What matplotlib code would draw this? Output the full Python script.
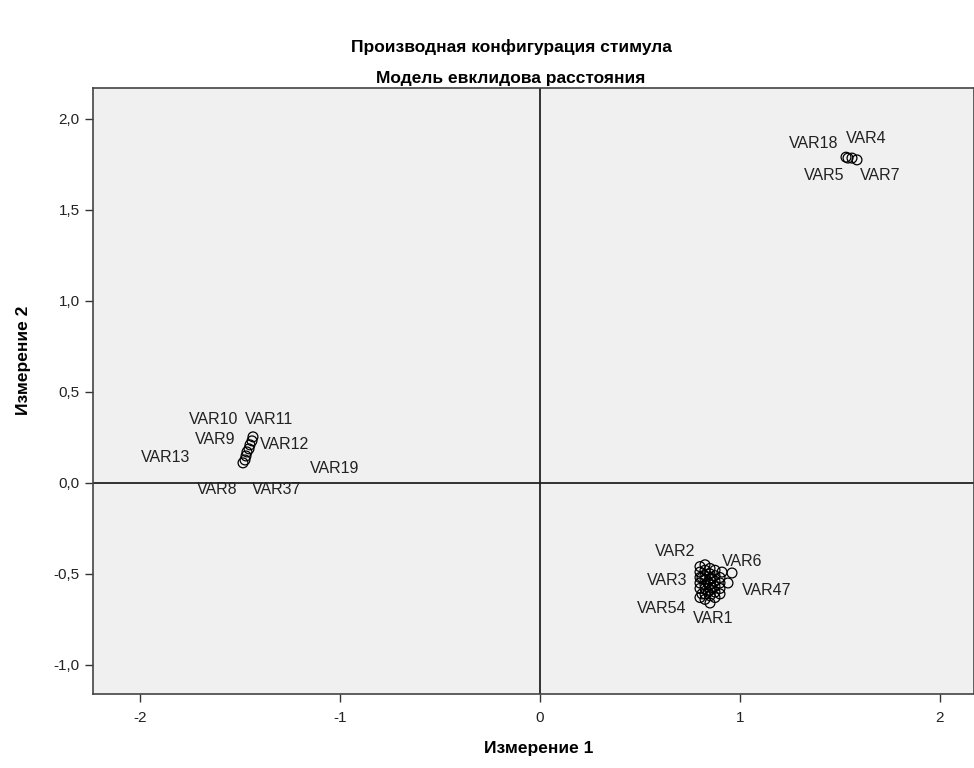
import matplotlib.pyplot as plt
from matplotlib.ticker import FuncFormatter

plt.rcParams['font.family'] = ['Liberation Sans', 'DejaVu Sans']

# stimulus coordinates (dimension 1, dimension 2)
dim1 = [
    # top right group
    1.53, 1.54, 1.56, 1.585,
    # left group
    -1.435, -1.44, -1.45, -1.455, -1.465, -1.47, -1.475, -1.485,
    # bottom right group
    0.825, 0.91, 0.80, 0.94, 0.80, 0.85,
    0.80, 0.80, 0.80, 0.80,
    0.825, 0.825, 0.825, 0.825, 0.825, 0.825, 0.825,
    0.85, 0.85, 0.85, 0.85, 0.85, 0.85,
    0.875, 0.875, 0.875, 0.875, 0.875, 0.875,
    0.90, 0.90, 0.90, 0.90, 0.96,
    0.81, 0.84, 0.86, 0.84, 0.81, 0.86,
]
dim2 = [
    1.79, 1.785, 1.785, 1.775,
    0.253, 0.231, 0.209, 0.187, 0.170, 0.148, 0.126, 0.110,
    -0.45, -0.49, -0.52, -0.55, -0.63, -0.66,
    -0.46, -0.49, -0.55, -0.58,
    -0.48, -0.51, -0.53, -0.56, -0.58, -0.61, -0.64,
    -0.47, -0.50, -0.53, -0.56, -0.59, -0.62,
    -0.48, -0.51, -0.54, -0.57, -0.60, -0.63,
    -0.52, -0.55, -0.58, -0.61, -0.495,
    -0.52, -0.545, -0.575, -0.60, -0.61, -0.525,
]
labels = [
    'VAR18', 'VAR5', 'VAR4', 'VAR7',
    'VAR10', 'VAR11', 'VAR9', 'VAR12', 'VAR13', 'VAR19', 'VAR8', 'VAR37',
    'VAR2', 'VAR6', 'VAR3', 'VAR47', 'VAR54', 'VAR1',
]
# label offsets in pixels (dx, dy) for the labelled points
offsets = [
    (-32, 14), (-24, -17), (14, 20), (23, -16),
    (-39, 17), (17, 21), (-35, 5), (36, 4), (-81, -6), (89, -13), (-28, -30), (34, -27),
    (-30, 13), (20, 11), (-33, -3), (39, -8), (-38, -11), (3, -15),
]

xticks = [-2, -1, 0, 1, 2]
yticks = [-1.0, -0.5, 0.0, 0.5, 1.0, 1.5, 2.0]

fig = plt.figure(figsize=(9.74, 7.68), dpi=100)
ax = fig.add_axes([93/974, 1 - 694/768, 1 - 93/974, (694 - 88)/768])
ax.set_facecolor('#f0f0f0')

ax.axhline(0, color='#222222', lw=1.3, zorder=1)
ax.axvline(0, color='#222222', lw=1.3, zorder=1)

ax.scatter(dim1, dim2, s=50, facecolors='none', edgecolors='black', linewidths=0.9, zorder=3)

for i, lab in enumerate(labels):
    ax.annotate(lab, (dim1[i], dim2[i]), xytext=offsets[i], textcoords='offset pixels',
                ha='center', va='center', fontsize=11.5, color='#222222')

ax.set_xlim(-2.235, 2.17)
ax.set_ylim(-1.16, 2.17)
ax.set_xticks(xticks)
ax.set_yticks(yticks)
ax.xaxis.set_major_formatter(FuncFormatter(lambda v, p: '%d' % v))
ax.yaxis.set_major_formatter(FuncFormatter(lambda v, p: ('%.1f' % v).replace('.', ',')))
ax.tick_params(direction='out', length=6, width=1, colors='#333333', labelsize=11,
               labelcolor='#222222')
ax.tick_params(axis='x', pad=6)
for s in ax.spines.values():
    s.set_color('#444444')
    s.set_linewidth(1.2)

fig.text(511/974, 1 - 47/768, 'Производная конфигурация стимула', ha='center', va='center',
         fontsize=12.5, fontweight='bold')
fig.text(511/974, 1 - 78/768, 'Модель евклидова расстояния', ha='center', va='center',
         fontsize=12.5, fontweight='bold')
fig.text(539/974, 1 - 748/768, 'Измерение 1', ha='center', va='center',
         fontsize=12.5, fontweight='bold')
fig.text(24/974, 1 - 360/768, 'Измерение 2', ha='center', va='center', rotation=90,
         fontsize=12.5, fontweight='bold')

fig.savefig('out.png', dpi=100)
